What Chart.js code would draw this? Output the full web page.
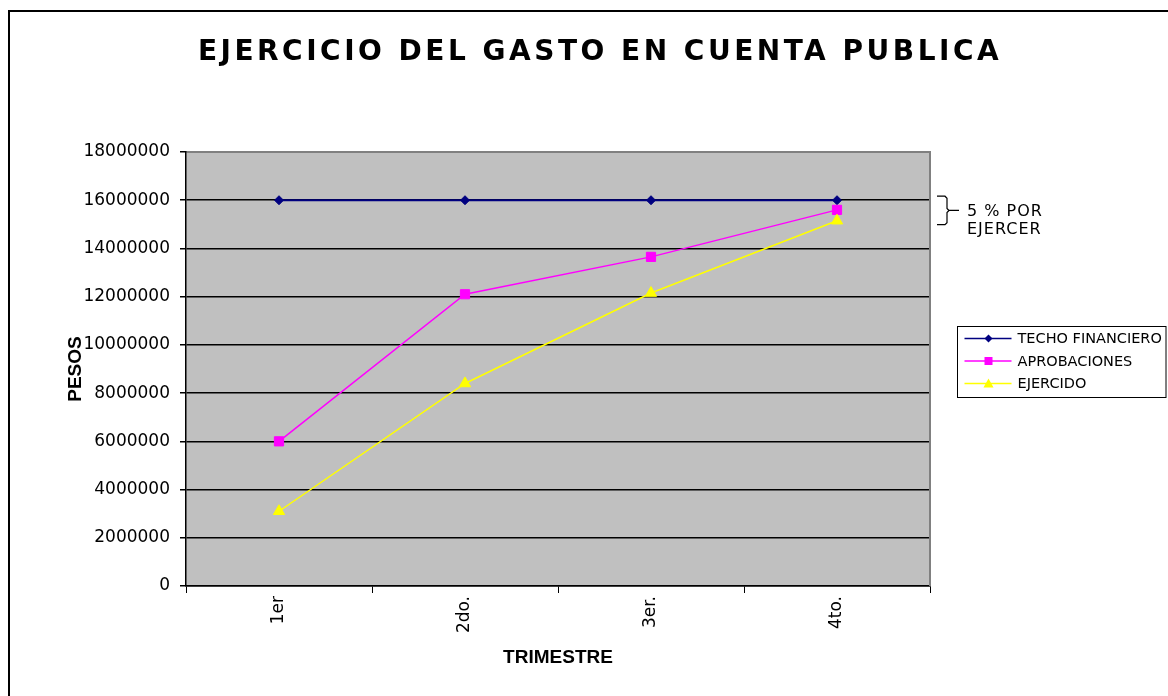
<!DOCTYPE html>
<html>
<head>
<meta charset="utf-8">
<title>Ejercicio del gasto en cuenta publica</title>
<script src="https://cdn.jsdelivr.net/npm/chart.js@4.4.1/dist/chart.umd.min.js"></script>
<style>
  html, body { margin: 0; padding: 0; background: #fff; }
  canvas { display: block; }
</style>
</head>
<body>
<canvas id="myChart" width="1168" height="696"></canvas>
<script>
// datos
const trimestres = ['1er', '2do.', '3er.', '4to.'];
const techoFinanciero = [16000000, 16000000, 16000000, 16000000];
const aprobaciones = [6000000, 12100000, 13650000, 15600000];
const ejercido = [3100000, 8400000, 12150000, 15150000];
const nombresSeries = ['TECHO FINANCIERO', 'APROBACIONES', 'EJERCIDO'];
const yMax = 18000000;
const yPaso = 2000000;
const titulo = 'EJERCICIO DEL GASTO EN CUENTA PUBLICA';
const notaPorEjercer = ['5 % POR', 'EJERCER'];

function marca(ctx, estilo, x, y, r) {
    ctx.beginPath();
    if (estilo === 'rectRot') {
        ctx.moveTo(x, y - r); ctx.lineTo(x + r, y); ctx.lineTo(x, y + r); ctx.lineTo(x - r, y);
    } else if (estilo === 'rect') {
        ctx.rect(x - r, y - r, 2 * r, 2 * r);
    } else {
        ctx.moveTo(x, y - r); ctx.lineTo(x + r, y + r * 0.8); ctx.lineTo(x - r, y + r * 0.8);
    }
    ctx.closePath();
    ctx.fill();
}

const adornos = {
    id: 'adornos',
    beforeDraw(chart) {
        const {ctx, chartArea: a} = chart;
        ctx.save();
        ctx.fillStyle = '#fff';
        ctx.fillRect(0, 0, chart.width, chart.height);
        ctx.fillStyle = '#c0c0c0';
        ctx.fillRect(a.left, a.top, a.right - a.left, a.bottom - a.top);
        // marco exterior (solo izquierda y arriba se ven)
        ctx.strokeStyle = '#000';
        ctx.lineWidth = 2;
        ctx.beginPath();
        ctx.moveTo(9, chart.height);
        ctx.lineTo(9, 11);
        ctx.lineTo(chart.width, 11);
        ctx.stroke();
        ctx.restore();
    },
    beforeDatasetsDraw(chart) {
        const {ctx, chartArea: a} = chart;
        ctx.save();
        ctx.strokeStyle = '#808080';
        ctx.lineWidth = 2;
        ctx.beginPath();
        ctx.moveTo(a.left + 1, a.top);
        ctx.lineTo(a.right, a.top);
        ctx.lineTo(a.right, a.bottom);
        ctx.stroke();
        ctx.restore();
    },
    afterDraw(chart) {
        const {ctx, chartArea: a} = chart;
        const y = chart.scales.y;
        ctx.save();

        // titulo
        ctx.fillStyle = '#000';
        ctx.font = 'bold 28px "DejaVu Sans"';
        ctx.letterSpacing = '3.5px';
        ctx.textAlign = 'center';
        ctx.textBaseline = 'middle';
        ctx.fillText(titulo, 600, 53);
        ctx.letterSpacing = '0px';

        // llave "5 % POR EJERCER"
        const yArr = y.getPixelForValue(techoFinanciero[3]) - 4;
        const yAb = y.getPixelForValue(ejercido[3]) + 4;
        const yMed = (yArr + yAb) / 2;
        const bx = a.right + 17;
        ctx.strokeStyle = '#000';
        ctx.lineWidth = 1.2;
        ctx.beginPath();
        ctx.moveTo(a.right + 7, yArr);
        ctx.lineTo(bx - 2, yArr);
        ctx.lineTo(bx, yArr + 2);
        ctx.lineTo(bx, yMed - 2);
        ctx.lineTo(bx + 2, yMed);
        ctx.lineTo(bx, yMed + 2);
        ctx.lineTo(bx, yAb - 2);
        ctx.lineTo(bx - 2, yAb);
        ctx.lineTo(a.right + 7, yAb);
        ctx.moveTo(bx + 2, yMed);
        ctx.lineTo(bx + 12, yMed);
        ctx.stroke();
        ctx.font = '16px "DejaVu Sans"';
        ctx.letterSpacing = '1px';
        ctx.textAlign = 'left';
        ctx.fillText(notaPorEjercer[0], a.right + 37, yMed + 1);
        ctx.fillText(notaPorEjercer[1], a.right + 37, yMed + 19);
        ctx.letterSpacing = '0px';

        // leyenda
        const lx = a.right + 27.5, ly = 326.5;
        ctx.lineWidth = 1;
        ctx.strokeStyle = '#000';
        ctx.strokeRect(lx, ly, chart.width - 2 - lx, 71);
        ctx.font = '14.5px "DejaVu Sans"';
        const radios = [4, 4, 5];
        chart.data.datasets.forEach((ds, i) => {
            const fy = ly + 12 + i * 22.5;
            ctx.strokeStyle = ds.borderColor;
            ctx.lineWidth = 1.5;
            ctx.beginPath();
            ctx.moveTo(lx + 7, fy);
            ctx.lineTo(lx + 54, fy);
            ctx.stroke();
            ctx.fillStyle = ds.pointBackgroundColor;
            marca(ctx, ds.pointStyle, lx + 31, fy, radios[i]);
            ctx.fillStyle = '#000';
            ctx.fillText(ds.label, lx + 60, fy + 1);
        });
        ctx.restore();
    }
};

const ctx = document.getElementById('myChart').getContext('2d');
const myChart = new Chart(ctx, {
    type: 'line',
    data: {
        labels: trimestres,
        datasets: [{
            label: nombresSeries[0],
            data: techoFinanciero,
            borderColor: '#000080',
            backgroundColor: '#000080',
            pointBackgroundColor: '#000080',
            borderWidth: 2,
            pointStyle: 'rectRot',
            pointRadius: 4.5,
            pointBorderWidth: 1,
            order: 3
        }, {
            label: nombresSeries[1],
            data: aprobaciones,
            borderColor: '#ff00ff',
            backgroundColor: '#ff00ff',
            pointBackgroundColor: '#ff00ff',
            borderWidth: 1.5,
            pointStyle: 'rect',
            pointRadius: 6.5,
            pointBorderWidth: 1,
            order: 2
        }, {
            label: nombresSeries[2],
            data: ejercido,
            borderColor: '#ffff00',
            backgroundColor: '#ffff00',
            pointBackgroundColor: '#ffff00',
            borderWidth: 1.5,
            pointStyle: 'triangle',
            pointRadius: 6.5,
            pointBorderWidth: 1,
            order: 1
        }]
    },
    options: {
        responsive: false,
        animation: false,
        layout: { padding: { left: 0, right: 238, top: 152, bottom: 0 } },
        elements: { line: { tension: 0, fill: false } },
        plugins: {
            legend: { display: false },
            tooltip: { enabled: false },
            title: { display: false }
        },
        scales: {
            x: {
                offset: true,
                grid: { offset: true, drawOnChartArea: false, tickLength: 7, color: '#000', lineWidth: 1 },
                border: { color: '#000', width: 1.5 },
                ticks: {
                    minRotation: 90, maxRotation: 90, padding: 3, color: '#000',
                    font: { family: 'DejaVu Sans', size: 17 }
                },
                title: {
                    display: true, text: 'TRIMESTRE', color: '#000',
                    font: { family: 'Liberation Sans', weight: 'bold', size: 19 },
                    padding: { top: 0, bottom: 27 }
                },
                afterFit(scale) { scale.height = 110; }
            },
            y: {
                min: 0,
                max: yMax,
                ticks: {
                    stepSize: yPaso, padding: 10, color: '#000',
                    font: { family: 'DejaVu Sans', size: 17 },
                    callback: v => String(v)
                },
                grid: { color: '#000', lineWidth: 1.5, tickLength: 6 },
                border: { color: '#000', width: 1.5 },
                title: {
                    display: true, text: 'PESOS', color: '#000',
                    font: { family: 'Liberation Sans', weight: 'bold', size: 19 },
                    padding: { top: 64, bottom: 0 }
                },
                afterFit(scale) { scale.width = 186; }
            }
        }
    },
    plugins: [adornos]
});
</script>
</body>
</html>
